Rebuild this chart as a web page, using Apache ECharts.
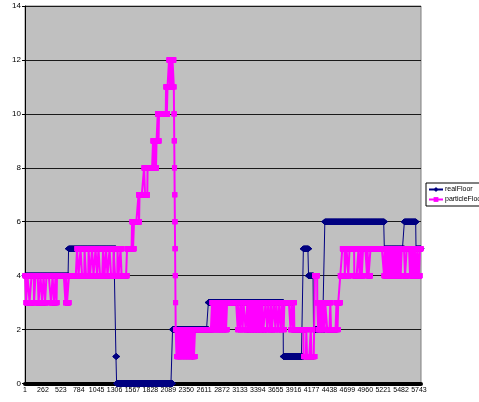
<!DOCTYPE html>
<html>
<head>
<meta charset="utf-8">
<script src="https://cdn.jsdelivr.net/npm/echarts@6/dist/echarts.min.js"></script>
<style>
  html, body { margin: 0; padding: 0; background: #ffffff; }
  #chart { width: 479px; height: 402px; }
</style>
</head>
<body>
<div id="chart"></div>
<script>
// Number of samples along the category axis (sample index 1..SAMPLE_COUNT)
const SAMPLE_COUNT = 5772;

// Series names
const seriesNames = ['realFloor', 'particleFloor'];

// Floor values stored as runs: [floor, last sample index of the run]
const realFloorRuns = [
  [4, 635], [5, 1325], [1, 1335], [0, 2150], [2, 2672], [3, 3765], [1, 4057],
  [5, 4132], [4, 4205], [2, 4370], [6, 5237], [5, 5529], [6, 5699], [5, 5772]
];

// particleFloor, first stretch: flicker between floors 3 and 4, then 4 and 5
const particleRunsA = [
  [4, 15], [3, 36], [4, 66], [3, 95], [4, 131], [3, 153], [4, 197], [3, 226], [4, 248],
  [3, 270], [4, 292], [3, 313], [4, 379], [3, 401], [4, 423], [3, 445], [4, 459], [3, 466],
  [4, 590], [3, 600], [4, 612], [3, 641],
  [4, 758], [5, 780], [4, 809], [5, 831], [4, 867], [5, 889], [4, 926], [5, 947], [4, 977],
  [5, 998], [4, 1028], [5, 1049], [4, 1071], [5, 1093], [4, 1137], [5, 1159], [4, 1181],
  [5, 1202], [4, 1232], [5, 1254], [4, 1290], [5, 1312], [4, 1348], [5, 1363], [4, 1392],
  [5, 1407], [4, 1487]
];

// particleFloor, climb to floor 12 and the drop back down to floor 2
const particleRunsB = [
  [5, 1560], [6, 1574], [5, 1589], [6, 1654], [7, 1662], [6, 1669], [7, 1735], [8, 1749],
  [7, 1786], [8, 1866], [9, 1880], [8, 1895], [9, 1909], [8, 1917], [9, 1934], [10, 1946],
  [9, 1953], [10, 2055], [11, 2067], [10, 2077], [11, 2099], [12, 2113], [11, 2128],
  [12, 2143], [11, 2150], [12, 2169],
  [11, 2172], [10, 2175], [9, 2178], [8, 2181], [7, 2184], [6, 2187], [5, 2190], [4, 2193], [3, 2196]
];

// particleFloor, low floors: 1/2 flicker, then long 2/3 flicker
const particleRunsC = [
  [2, 2208], [1, 2225], [2, 2232], [1, 2245], [2, 2252], [1, 2262], [2, 2270], [1, 2282],
  [2, 2290], [1, 2300], [2, 2308], [1, 2320], [2, 2328], [1, 2340], [2, 2350], [1, 2362],
  [2, 2370], [1, 2383], [2, 2390], [1, 2400], [2, 2410], [1, 2425], [2, 2433], [1, 2455],
  [2, 2462], [1, 2478],
  [2, 2726], [3, 2740], [2, 2752], [3, 2770], [2, 2780], [3, 2795], [2, 2805], [3, 2818],
  [2, 2828], [3, 2840], [2, 2850], [3, 2862], [2, 2872], [3, 2885], [2, 2895], [3, 2908],
  [2, 2918], [3, 2930], [2, 2945], [3, 3100],
  [2, 3112], [3, 3135], [2, 3150], [3, 3172], [2, 3185], [3, 3215],
  [2, 3240], [3, 3250], [2, 3262], [3, 3272], [2, 3284], [3, 3294], [2, 3306], [3, 3316],
  [2, 3328], [3, 3338], [2, 3350], [3, 3360], [2, 3372], [3, 3382], [2, 3394], [3, 3404],
  [2, 3416], [3, 3426], [2, 3438], [3, 3448], [2, 3460], [3, 3475],
  [2, 3505], [3, 3530], [2, 3545], [3, 3570], [2, 3585], [3, 3600],
  [2, 3625], [3, 3650], [2, 3662], [3, 3690], [2, 3705], [3, 3730], [2, 3745], [3, 3770],
  [2, 3780], [3, 3870], [2, 3885], [3, 3905], [2, 3920], [3, 3925]
];

// particleFloor, last stretch: 1..4 jumps, then 4/5 flicker to the end
const particleRunsD = [
  [2, 4060], [1, 4100], [2, 4110], [1, 4165], [2, 4175], [1, 4225], [4, 4260], [3, 4272],
  [2, 4290], [3, 4305], [2, 4318], [3, 4335], [2, 4348], [3, 4365], [2, 4375], [3, 4405],
  [2, 4450], [3, 4460], [2, 4540], [3, 4555], [2, 4565], [3, 4595], [4, 4625],
  [5, 4660], [4, 4686], [5, 4712], [4, 4730], [5, 4800], [4, 4861], [5, 4876], [4, 4898],
  [5, 4908], [4, 4927], [5, 4985], [4, 4992], [5, 5007], [4, 5036], [5, 5233],
  [4, 5242], [5, 5250], [4, 5260], [5, 5268], [4, 5278], [5, 5286], [4, 5296], [5, 5304],
  [4, 5314], [5, 5322], [4, 5332], [5, 5340], [4, 5350], [5, 5358], [4, 5368], [5, 5376],
  [4, 5386], [5, 5394], [4, 5404],
  [5, 5418], [4, 5430], [5, 5445], [4, 5460], [5, 5475], [4, 5491], [5, 5539], [4, 5564],
  [5, 5612], [4, 5620], [5, 5628], [4, 5636], [5, 5644], [4, 5652], [5, 5660], [4, 5668],
  [5, 5676], [4, 5684], [5, 5709], [4, 5720], [5, 5740], [4, 5757], [5, 5772]
];

// Y axis scale
const yMin = 0, yMax = 14, yStep = 2;
// Every 261st sample index gets a label (1, 262, 523, ...)
const labelEvery = 261;

// Expand runs into one value per sample index
function expandRuns(runs, n) {
  const out = [];
  for (const [value, last] of runs) {
    while (out.length < Math.min(last, n)) out.push(value);
  }
  while (out.length < n) out.push(runs[runs.length - 1][0]);
  return out;
}

const categories = [];
for (let k = 1; k <= SAMPLE_COUNT; k++) categories.push(String(k));

const realFloor = expandRuns(realFloorRuns, SAMPLE_COUNT);
const particleFloor = expandRuns(
  particleRunsA.concat(particleRunsB, particleRunsC, particleRunsD), SAMPLE_COUNT);

const FONT = "'Liberation Sans', Arial, sans-serif";
const NARROW = "'Liberation Sans Narrow', 'Arial Narrow', 'Liberation Sans', Arial, sans-serif";

const chart = echarts.init(document.getElementById('chart'), null, { renderer: 'canvas' });
chart.setOption({
  animation: false,
  backgroundColor: '#ffffff',
  grid: {
    left: 25, right: 58, top: 6, bottom: 18.5,
    show: true, backgroundColor: '#c0c0c0', borderColor: '#808080', borderWidth: 1
  },
  legend: {
    orient: 'vertical',
    left: 426, top: 183,
    padding: [3, 30, 3, 2],
    itemGap: 3,
    itemWidth: 14, itemHeight: 6,
    backgroundColor: '#ffffff',
    borderColor: '#000000', borderWidth: 1, borderRadius: 0,
    textStyle: { fontFamily: NARROW, fontSize: 7, color: '#000000', padding: [0, 0, 0, -3] },
    data: seriesNames
  },
  xAxis: {
    type: 'category',
    data: categories,
    boundaryGap: true,
    axisLine: { show: true, lineStyle: { color: '#000000', width: 4 } },
    axisTick: { show: false },
    axisLabel: {
      interval: labelEvery - 1,
      margin: 3,
      fontFamily: NARROW, fontSize: 7, color: '#000000',
      hideOverlap: false
    },
    splitLine: { show: false }
  },
  yAxis: {
    type: 'value',
    min: yMin, max: yMax, interval: yStep,
    axisLine: { show: true, lineStyle: { color: '#000000', width: 1 } },
    axisTick: { show: true, inside: false, length: 3, lineStyle: { color: '#000000' } },
    axisLabel: { margin: 4, fontFamily: FONT, fontSize: 8, color: '#000000' },
    splitLine: { show: true, lineStyle: { color: '#1a1a1a', width: 1 } }
  },
  series: [
    {
      name: seriesNames[0],
      type: 'line',
      data: realFloor,
      showAllSymbol: true,
      symbol: 'diamond',
      symbolSize: [7, 6],
      clip: false,
      color: '#000080',
      lineStyle: { color: '#000080', width: 1 },
      itemStyle: { color: '#000080' },
      emphasis: { disabled: true },
      z: 2
    },
    {
      name: seriesNames[1],
      type: 'line',
      data: particleFloor,
      showAllSymbol: true,
      symbol: 'rect',
      symbolSize: 5,
      clip: false,
      color: '#ff00ff',
      lineStyle: { color: '#ff00ff', width: 2 },
      itemStyle: { color: '#ff00ff' },
      emphasis: { disabled: true },
      z: 3
    }
  ]
});
</script>
</body>
</html>
